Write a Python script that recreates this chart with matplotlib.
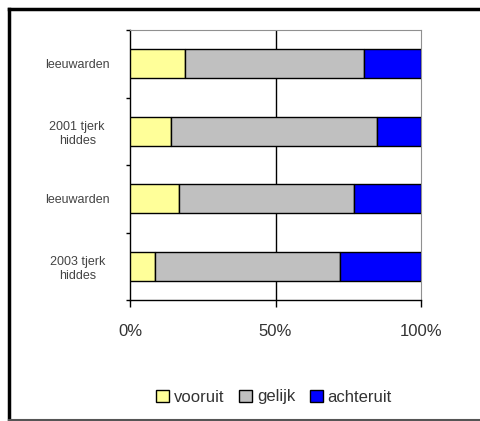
import numpy as np
import matplotlib.pyplot as plt
from matplotlib.lines import Line2D
from matplotlib.ticker import PercentFormatter

# data, top to bottom
categories = ["leeuwarden", "2001 tjerk\nhiddes", "leeuwarden", "2003 tjerk\nhiddes"]
vooruit = [19.0, 14.0, 17.0, 8.5]
gelijk = [61.5, 71.0, 60.0, 63.5]
achteruit = [19.5, 15.0, 23.0, 28.0]
series_names = ["vooruit", "gelijk", "achteruit"]
colors = ["#FFFF99", "#C0C0C0", "#0000FF"]

plt.rcParams['font.family'] = ['Liberation Sans', 'DejaVu Sans']

fig = plt.figure(figsize=(4.81, 4.21), dpi=100)
ax = fig.add_axes([130 / 481, 1 - 300 / 421, 291 / 481, 270 / 421])

y = np.arange(len(categories))[::-1]
vals = np.array([vooruit, gelijk, achteruit])
totals = vals.sum(axis=0)
fracs = vals / totals

left = np.zeros(len(categories))
for frac, name, c in zip(fracs, series_names, colors):
    ax.barh(y, frac, left=left, height=0.43, color=c, edgecolor='black',
            linewidth=1.0, label=name, zorder=3)
    left += frac

ax.set_xlim(0, 1)
ax.set_ylim(-0.5, len(categories) - 0.5)

# gridline at 50%
ax.axvline(0.5, color='black', linewidth=1.0, zorder=1)

ax.set_xticks([0, 0.5, 1.0])
ax.xaxis.set_major_formatter(PercentFormatter(1.0, decimals=0))
ax.tick_params(axis='x', direction='out', length=5, width=1, pad=12,
               labelsize=12, labelcolor='#333333')

ax.set_yticks(y)
ax.set_yticklabels(categories, fontsize=9, color='#444444', ha='center',
                   linespacing=1.3)
ax.set_yticks(np.arange(-0.5, len(categories)), minor=True)
ax.tick_params(axis='y', which='major', length=0, pad=38)
ax.tick_params(axis='y', which='minor', direction='out', length=3, width=1)

for s in ['top', 'right']:
    ax.spines[s].set_color('#909090')
for s in ['left', 'bottom']:
    ax.spines[s].set_color('black')
    ax.spines[s].set_linewidth(1.0)

fig.legend(loc='center', bbox_to_anchor=(274 / 481, 1 - 397 / 421), ncol=3,
           frameon=False, fontsize=12, handlelength=0.75, handleheight=0.75,
           handletextpad=0.3, columnspacing=0.9, labelcolor='#333333')

# outer frame
fig.add_artist(Line2D([9 / 481, 1.0], [1 - 9 / 421] * 2, color='black', lw=2.5,
                      transform=fig.transFigure))
fig.add_artist(Line2D([9 / 481] * 2, [1 - 9 / 421, 1 / 421], color='black', lw=2.5,
                      transform=fig.transFigure))
fig.add_artist(Line2D([9 / 481, 1.0], [1 / 421] * 2, color='#555555', lw=1.5,
                      transform=fig.transFigure))

fig.savefig('out.png', dpi=100)
